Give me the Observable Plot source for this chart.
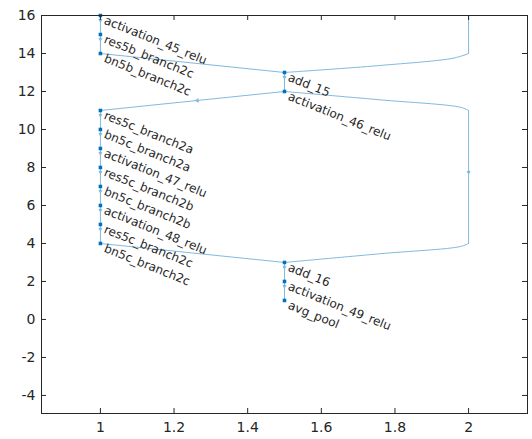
<!DOCTYPE html>
<html>
<head>
<meta charset="utf-8">
<script src="https://cdn.jsdelivr.net/npm/d3@7"></script>
<script src="https://cdn.jsdelivr.net/npm/@observablehq/plot@0.6"></script>
<style>
  html, body { margin: 0; padding: 0; background: #fff; }
  svg { display: block; }
</style>
</head>
<body>
<div id="chart"></div>
<script>
// ---- data ----
const nodeNames = ["activation_45_relu","res5b_branch2c","bn5b_branch2c","add_15","activation_46_relu",
  "res5c_branch2a","bn5c_branch2a","activation_47_relu","res5c_branch2b","bn5c_branch2b",
  "activation_48_relu","res5c_branch2c","bn5c_branch2c","add_16","activation_49_relu","avg_pool"];
const nodeX = [1,1,1,1.5,1.5,1,1,1,1,1,1,1,1,1.5,1.5,1.5];
const nodeY = [16,15,14,13,12,11,10,9,8,7,6,5,4,3,2,1];

// direct edges (source index, target index), arrow position along edge (null = none)
const edgeSource = [0,1,2,3,4,5,6,7,8,9,10,11,12,13,14];
const edgeTarget = [1,2,3,4,5,6,7,8,9,10,11,12,13,14,15];
const edgeArrowAt = [0.25,0.25,null,0.25,0.474,0.25,0.25,0.25,0.25,0.25,0.25,0.25,null,0.25,0.25];
const edgeArrowRotate = [180,180,0,180,264,180,180,180,180,180,180,180,0,180,180];

// routed skip connections (bend points)
// straight vertical runs
const skipRunX1 = [2, 2];
const skipRunY1 = [16, 11];
const skipRunY2 = [14, 4];
// curved bends into / out of the merge nodes
const bendA_X = [2, 1.96, 1.76, 1.5];
const bendA_Y = [14, 13.76, 13.37, 13];
const bendB_X = [1.5, 1.76, 1.978, 2];
const bendB_Y = [12, 11.56, 11.17, 11];
const bendC_X = [2, 1.978, 1.76, 1.5];
const bendC_Y = [4, 3.84, 3.46, 3];
const skipArrowX = [2];
const skipArrowY = [7.75];

const xTicks = [1, 1.2, 1.4, 1.6, 1.8, 2];
const xTickLabels = ["1", "1.2", "1.4", "1.6", "1.8", "2"];
const yTicks = [-4, -2, 0, 2, 4, 6, 8, 10, 12, 14, 16];
const yTickLabels = ["-4", "-2", "0", "2", "4", "6", "8", "10", "12", "14", "16"];

// ---- tables ----
const nodes = nodeNames.map((n, i) => ({name: n, x: nodeX[i], y: nodeY[i]}));
const straightPts = [];
edgeSource.forEach((s, i) => {
  const t = edgeTarget[i];
  straightPts.push({id: "e" + i, x: nodeX[s], y: nodeY[s]});
  straightPts.push({id: "e" + i, x: nodeX[t], y: nodeY[t]});
});
skipRunX1.forEach((x, i) => {
  straightPts.push({id: "run" + i, x, y: skipRunY1[i]});
  straightPts.push({id: "run" + i, x, y: skipRunY2[i]});
});
const curvePts = [];
bendA_X.forEach((x, i) => curvePts.push({id: "A", x, y: bendA_Y[i]}));
bendB_X.forEach((x, i) => curvePts.push({id: "B", x, y: bendB_Y[i]}));
bendC_X.forEach((x, i) => curvePts.push({id: "C", x, y: bendC_Y[i]}));

const arrows = [];
edgeSource.forEach((s, i) => {
  const f = edgeArrowAt[i];
  if (f == null) return;
  const t = edgeTarget[i];
  arrows.push({
    x: nodeX[s] + (nodeX[t] - nodeX[s]) * f,
    y: nodeY[s] + (nodeY[t] - nodeY[s]) * f,
    r: edgeArrowRotate[i]
  });
});
skipArrowX.forEach((x, i) => arrows.push({x, y: skipArrowY[i], r: 180}));

// ---- layout ----
const W = 532, H = 439;
const mT = 15, mR = 5, mB = 26, mL = 41;
const innerW = W - mL - mR, innerH = H - mT - mB;
const tick = 5;
const edgeColor = "#80B9DE";
const nodeColor = "#0072BD";
const axisColor = "#262626";

const chart = Plot.plot({
  width: W,
  height: H,
  marginTop: mT, marginRight: mR, marginBottom: mB, marginLeft: mL,
  style: {fontFamily: "DejaVu Sans", background: "#fff", color: axisColor},
  x: {domain: [0.84, 2.16]},
  y: {domain: [-4.95, 16]},
  marks: [
    Plot.line(straightPts, {x: "x", y: "y", z: "id", stroke: edgeColor, strokeWidth: 1}),
    Plot.line(curvePts, {x: "x", y: "y", z: "id", curve: "catmull-rom", stroke: edgeColor, strokeWidth: 1}),
    Plot.dot(arrows, {x: "x", y: "y", rotate: "r", symbol: "triangle", r: 1.1, fill: "none", stroke: edgeColor, strokeWidth: 1}),
    Plot.dot(nodes, {x: "x", y: "y", symbol: "square", r: 2, fill: nodeColor, stroke: "none"}),
    Plot.text(nodes, {x: "x", y: "y", text: "name", textAnchor: "start", lineAnchor: "top",
      rotate: 22, dx: 6, dy: 0, fontSize: 12, fill: axisColor}),
    Plot.frame({stroke: axisColor, strokeWidth: 1}),
    Plot.ruleX(xTicks, {insetTop: innerH - tick, stroke: axisColor}),
    Plot.ruleX(xTicks, {insetBottom: innerH - tick, stroke: axisColor}),
    Plot.ruleY(yTicks, {insetRight: innerW - tick, stroke: axisColor}),
    Plot.ruleY(yTicks, {insetLeft: innerW - tick, stroke: axisColor}),
    Plot.axisX(xTicks, {tickSize: 0, tickPadding: 9, fontSize: 14, label: null,
      tickFormat: (d) => xTickLabels[xTicks.indexOf(d)], fill: axisColor}),
    Plot.axisY(yTicks, {tickSize: 0, tickPadding: 6, fontSize: 14, label: null,
      tickFormat: (d) => yTickLabels[yTicks.indexOf(d)], fill: axisColor})
  ]
});
document.getElementById("chart").appendChild(chart);
</script>
</body>
</html>
